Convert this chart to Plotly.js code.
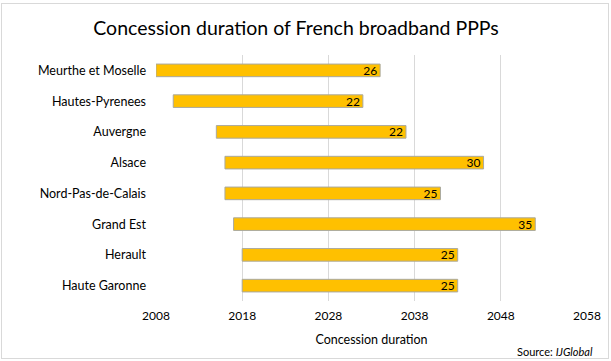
<!DOCTYPE html>
<html><head><meta charset="utf-8">
<script src="https://cdn.plot.ly/plotly-3.0.1.min.js"></script>
<style>
body{margin:0;padding:0;background:#fff;}
#wrap{position:relative;width:611px;height:361px;}
#chart{position:absolute;left:0;top:0;width:611px;height:361px;}
#frame{position:absolute;left:1px;top:3px;width:606px;height:354px;border:1px solid #d9d9d9;pointer-events:none;}
</style></head>
<body>
<div id="wrap"><div id="chart"></div><div id="frame"></div></div>
<script>
const regions = ["Meurthe et Moselle","Hautes-Pyrenees","Auvergne","Alsace","Nord-Pas-de-Calais","Grand Est","Herault","Haute Garonne"];
const startYears = [2008, 2010, 2015, 2016, 2016, 2017, 2018, 2018];
const durations = [26, 22, 22, 30, 25, 35, 25, 25];
const xTicks = [2008, 2018, 2028, 2038, 2048, 2058];

const FONT = "Lato, 'Open Sans', sans-serif";

Plotly.newPlot('chart', [{
  type: 'bar',
  orientation: 'h',
  y: regions,
  x: durations,
  base: startYears,
  text: durations.map(String),
  textposition: 'inside',
  insidetextanchor: 'end',
  textangle: 0,
  constraintext: 'none',
  cliponaxis: false,
  textfont: {family: FONT, size: 12, color: '#000'},
  marker: {color: '#FFC000', line: {color: '#a9a9a0', width: 1}},
  hoverinfo: 'none'
}], {
  width: 611, height: 361,
  margin: {l: 156, r: 24, t: 55, b: 60},
  paper_bgcolor: '#fff', plot_bgcolor: '#fff',
  title: {text: 'Concession duration of French broadband PPPs', font: {family: FONT, size: 19.5, color: '#000'}, x: 0.4845, xanchor: 'center', y: 0.922, yanchor: 'middle'},
  bargap: 0.59,
  showlegend: false,
  xaxis: {
    range: [2008, 2058], tickvals: xTicks, ticktext: xTicks.map(String),
    showgrid: true, gridcolor: '#d9d9d9', gridwidth: 1, zeroline: false,
    showline: false, ticks: '',
    ticklabelstandoff: 6,
    tickfont: {family: FONT, size: 12, color: '#000'},
    title: {text: 'Concession duration', font: {family: FONT, size: 12.5, color: '#000'}, standoff: 13}
  },
  yaxis: {
    autorange: 'reversed', type: 'category',
    showgrid: false, zeroline: false, showline: false, ticks: '',
    ticklabelstandoff: 9,
    tickfont: {family: FONT, size: 12.5, color: '#000'}
  },
  annotations: [{
    xref: 'paper', yref: 'paper', x: 1.018, y: -0.207, xanchor: 'right', yanchor: 'middle',
    showarrow: false, text: 'Source: <i>IJGlobal</i>', font: {family: FONT, size: 11, color: '#000'}
  }]
}, {displayModeBar: false, staticPlot: true});
</script>
</body></html>
